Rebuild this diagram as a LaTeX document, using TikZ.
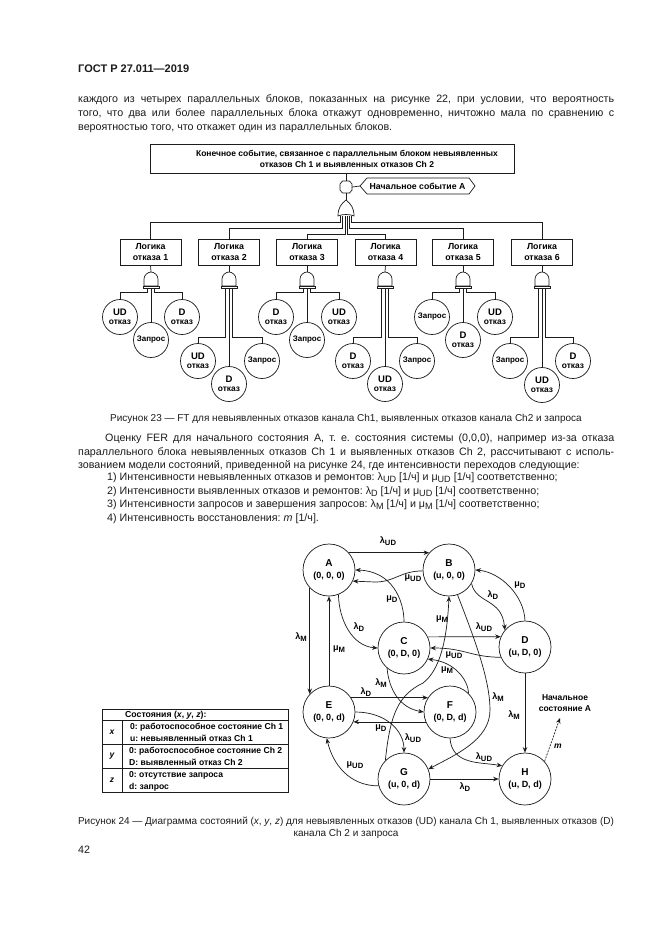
\documentclass[tikz,border=0pt]{standalone}
\usepackage{fontspec}
\setmainfont{Liberation Sans}
\usetikzlibrary{arrows.meta,calc,positioning}
\definecolor{ink}{HTML}{1C1C1C}
\frenchspacing
\newcommand{\sbs}[2]{#1\raisebox{-.4ex}{\scalebox{.85}{#2}}}
\newcommand{\lfu}[1]{{\bfseries\fontsize{9.5}{11}\selectfont #1}\\[-.5pt]{\bfseries\fontsize{8.4}{9}\selectfont отказ}}
\newcommand{\stt}[2]{{\fontsize{10}{11}\selectfont #1}\\{\fontsize{9}{10}\selectfont #2}}
\tikzset{
  wire/.style={draw=ink,line width=.7pt},
  arr/.style={wire,-{Stealth[length=5.5pt,width=4.5pt]}},
  lbox/.style={draw=ink,line width=.7pt,minimum width=61pt,minimum height=26pt,inner sep=0pt,align=center,font=\bfseries\fontsize{8.8}{11}\selectfont},
  leaf/.style={draw=ink,line width=.7pt,circle,minimum size=35pt,inner sep=0pt,align=center,font=\bfseries\fontsize{8}{9.5}\selectfont},
  state/.style={draw=ink,line width=.7pt,circle,minimum size=52pt,inner sep=0pt,align=center,font=\bfseries},
  tl/.style={inner sep=0pt,font=\bfseries\fontsize{9}{10}\selectfont},
  body/.style={anchor=base west,inner sep=0pt,text=ink,font=\fontsize{10.7}{12}\selectfont},
  capt/.style={anchor=base,inner sep=0pt,text=ink,font=\fontsize{10}{12}\selectfont},
  tabt/.style={anchor=base west,inner sep=0pt,font=\bfseries\fontsize{8.6}{9}\selectfont},
}
\newcommand{\andgate}[2]{%
  \begin{scope}[shift={(#2,272)}]
    \coordinate (#1t) at (0,0);
    \coordinate (#1b) at (0,16);
    \draw[wire,fill=white] (-7,14) -- (-7,7) .. controls (-7,3) and (-3,0) .. (0,0) .. controls (3,0) and (7,3) .. (7,7) -- (7,14) -- cycle;
    \draw[wire,fill=white] (-8,14) rectangle (8,16);
  \end{scope}}
\begin{document}
\begin{tikzpicture}[x=1pt,y=-1pt]
\useasboundingbox (0,0) rectangle (661,935);
\fill[white] (0,0) rectangle (661,935);

% page text
\node[body,font=\bfseries\fontsize{11}{12}\selectfont] (hd) at (78,72) {ГОСТ Р 27.011—2019};
\node[body] (p1) at (78,102) {\makebox[536pt][s]{каждого из четырех параллельных блоков, показанных на рисунке 22, при условии, что вероятность}};
\node[body] (p2) at (78,116) {\makebox[536pt][s]{того, что два или более параллельных блока откажут одновременно, ничтожно мала по сравнению с}};
\node[body] (p3) at (78,130) {вероятностью того, что откажет один из параллельных блоков.};

% fault tree top
\node[draw=ink,line width=.7pt,minimum width=364pt,minimum height=29pt,inner sep=0pt,align=center,font=\bfseries\fontsize{8.5}{11}\selectfont] (top) at (332,158.5) {\hspace*{30pt}Конечное событие, связанное с параллельным блоком невыявленных\\\hspace*{30pt}отказов Ch 1 и выявленных отказов Ch 2};
\node[minimum width=12pt,minimum height=12pt,inner sep=0pt] (hex) at (346,187) {};
\draw[wire] (342.5,181) -- (349.5,181) -- (352,184) -- (352,190) -- (349.5,193) -- (342.5,193) -- (340,190) -- (340,184) -- cycle;
\node[inner sep=0pt,minimum height=16pt,minimum width=115pt,font=\bfseries\fontsize{8.7}{10}\selectfont] (ev) at (417.5,186) {Начальное событие А};
\draw[wire] (360,186) -- (367,178) -- (469,178) -- (475,186) -- (469,194) -- (367,194) -- cycle;
\coordinate (evtip) at (360,186);
\draw[wire] (top.south -| hex) -- (hex.north);
\draw[wire] (hex.east) -- (evtip);
\coordinate (ort) at (346,200);
\coordinate (orb) at (346,216);
\draw[wire] (hex.south) -- (ort);
\draw[wire,fill=white] (338,216) .. controls (338,208) and (341,204) .. (346,200) .. controls (351,204) and (354,208) .. (354,216) .. controls (350,214) and (342,214) .. cycle;

% logic boxes
\node[lbox] (b1) at (150.5,252) {Логика\\отказа 1};
\node[lbox] (b2) at (229,252) {Логика\\отказа 2};
\node[lbox] (b3) at (307,252) {Логика\\отказа 3};
\node[lbox] (b4) at (385.5,252) {Логика\\отказа 4};
\node[lbox] (b5) at (463,252) {Логика\\отказа 5};
\node[lbox] (b6) at (542,252) {Логика\\отказа 6};
\draw[wire] ([xshift=-5.5pt]orb) -- ++(0,6) -| (b1.north);
\draw[wire] ([xshift=-3.3pt]orb) -- ++(0,12) -| (b2.north);
\draw[wire] ([xshift=-1.1pt]orb) -- ++(0,18) -| (b3.north);
\draw[wire] ([xshift=1.1pt]orb) -- ++(0,18) -| (b4.north);
\draw[wire] ([xshift=3.3pt]orb) -- ++(0,12) -| (b5.north);
\draw[wire] ([xshift=5.5pt]orb) -- ++(0,6) -| (b6.north);

% gates
\andgate{g1}{151}\andgate{g2}{229}\andgate{g3}{307}\andgate{g4}{385}\andgate{g5}{463}\andgate{g6}{542}
\foreach \i in {1,...,6}{\draw[wire] (b\i.south) -- (g\i t);}

% leaves
\node[leaf] (l1a) at (120,317) {\lfu{UD}};
\node[leaf] (l1b) at (151,340) {Запрос};
\node[leaf] (l1c) at (182,317) {\lfu{D}};
\node[leaf] (l2a) at (198,361) {\lfu{UD}};
\node[leaf] (l2b) at (229,384) {\lfu{D}};
\node[leaf] (l2c) at (262,361) {Запрос};
\node[leaf] (l3a) at (276,317) {\lfu{D}};
\node[leaf] (l3b) at (307,340) {Запрос};
\node[leaf] (l3c) at (339,317) {\lfu{UD}};
\node[leaf] (l4a) at (353,361) {\lfu{D}};
\node[leaf] (l4b) at (385,384) {\lfu{UD}};
\node[leaf] (l4c) at (417,361) {Запрос};
\node[leaf] (l5a) at (432,317) {Запрос};
\node[leaf] (l5b) at (463,340) {\lfu{D}};
\node[leaf] (l5c) at (495,317) {\lfu{UD}};
\node[leaf] (l6a) at (510,361) {Запрос};
\node[leaf] (l6b) at (542,385) {\lfu{UD}};
\node[leaf] (l6c) at (573,361) {\lfu{D}};
\foreach \i in {1,3,5}{
  \draw[wire] ([xshift=-3.5pt]g\i b) -- ++(0,4) -| (l\i a.north);
  \draw[wire] (g\i b) -- (l\i b.north);
  \draw[wire] ([xshift=3.5pt]g\i b) -- ++(0,4) -| (l\i c.north);
}
\foreach \i in {2,4,6}{
  \draw[wire] ([xshift=-3.5pt]g\i b) -- ++(0,49) -| (l\i a.north);
  \draw[wire] (g\i b) -- (l\i b.north);
  \draw[wire] ([xshift=3.5pt]g\i b) -- ++(0,49) -| (l\i c.north);
}

\node[capt] (c23) at (346,421) {Рисунок 23 — FT для невыявленных отказов канала Ch1, выявленных отказов канала Ch2 и запроса};

% second text block
\node[body] (q1) at (105,441) {\makebox[509pt][s]{Оценку FER для начального состояния А, т. е. состояния системы (0,0,0), например из-за отказа}};
\node[body] (q2) at (78,455) {\makebox[536pt][s]{параллельного блока невыявленных отказов Ch 1 и выявленных отказов Ch 2, рассчитывают с исполь-}};
\node[body] (q3) at (78,468) {зованием модели состояний, приведенной на рисунке 24, где интенсивности переходов следующие:};
\node[body] (q4) at (107,480) {1) Интенсивности невыявленных отказов и ремонтов: \sbs{λ}{UD} [1/ч] и \sbs{μ}{UD} [1/ч] соответственно;};
\node[body] (q5) at (107,494) {2) Интенсивности выявленных отказов и ремонтов: \sbs{λ}{D} [1/ч] и \sbs{μ}{UD} [1/ч] соответственно;};
\node[body] (q6) at (107,507) {3) Интенсивности запросов и завершения запросов: \sbs{λ}{M} [1/ч] и \sbs{μ}{M} [1/ч] соответственно;};
\node[body] (q7) at (107,521) {4) Интенсивность восстановления: \textit{m} [1/ч].};

% states
\node[state] (A) at (329,570) {\stt{A}{(0, 0, 0)}};
\node[state] (B) at (449,570) {\stt{B}{(u, 0, 0)}};
\node[state] (C) at (404,648) {\stt{C}{(0, D, 0)}};
\node[state] (D) at (525,647) {\stt{D}{(u, D, 0)}};
\node[state] (E) at (329,712) {\stt{E}{(0, 0, d)}};
\node[state] (F) at (450,712) {\stt{F}{(0, D, d)}};
\node[state] (G) at (404,779) {\stt{G}{(u, 0, d)}};
\node[state] (H) at (525,779) {\stt{H}{(u, D, d)}};

\draw[arr] (A.41) -- (B.139);
\draw[arr] (B.182) .. controls (400,571) and (395,582) .. (375,582) -- (A.-25);
\draw[arr] (C.90) .. controls (404,600) and (392,571) .. (A.0);
\draw[arr] (A.-69) .. controls (339,620) and (352,646) .. (C.180);
\draw[arr] (E.90) -- (A.-90);
\draw[arr] (A.-137) -- (E.137);
\draw[arr] (C.25) -- (D.157);
\draw[arr] (D.-157) .. controls (470,657) and (465,648) .. (C.0);
\draw[arr] (F.45) .. controls (468,680) and (455,662) .. (C.-25);
\draw[arr] (B.-31) .. controls (476,604) and (502,598) .. (D.140);
\draw[arr] (D.90) .. controls (524,595) and (500,572) .. (B.0);
\draw[arr] (B.-71) .. controls (475,640) and (490,680) .. (490,710) .. controls (490,740) and (455,755) .. (G.22);
\draw[arr] (G.135) .. controls (390,715) and (398,695) .. (423,683) .. controls (440,670) and (447,640) .. (B.-90);
\draw[arr] (C.-130) .. controls (389,690) and (400,708) .. (F.180);
\draw[arr] (E.33) -- (F.147);
\draw[arr] (F.-158) -- (E.-22);
\draw[arr] (E.0) .. controls (385,712) and (404,730) .. (G.90);
\draw[arr] (G.-165) .. controls (350,786) and (333,765) .. (E.-95);
\draw[arr] (G.0) -- (H.180);
\draw[arr] (F.-90) .. controls (452,765) and (480,762) .. (H.150);
\draw[arr] (D.-90) -- (H.90);
\coordinate (mend) at (560,718);
\draw[arr,dashed,dash pattern=on 2pt off 1.2pt] (H.42) -- (mend);

% transition labels
\node[tl] (t1) at (388,541) {\sbs{λ}{UD}};
\node[tl] (t2) at (413,578) {\sbs{μ}{UD}};
\node[tl] (t3) at (392,599) {\sbs{μ}{D}};
\node[tl] (t4) at (359,627) {\sbs{λ}{D}};
\node[tl] (t5) at (339,649) {\sbs{μ}{M}};
\node[tl] (t6) at (301,637) {\sbs{λ}{M}};
\node[tl] (t7) at (442,619) {\sbs{μ}{M}};
\node[tl] (t8) at (484,627) {\sbs{λ}{UD}};
\node[tl] (t9) at (454,655) {\sbs{μ}{UD}};
\node[tl] (t10) at (447,670) {\sbs{μ}{M}};
\node[tl] (t11) at (493,595) {\sbs{λ}{D}};
\node[tl] (t12) at (520,585) {\sbs{μ}{D}};
\node[tl] (t13) at (498,697) {\sbs{λ}{M}};
\node[tl] (t14) at (381,683) {\sbs{λ}{M}};
\node[tl] (t15) at (366,692) {\sbs{λ}{D}};
\node[tl] (t16) at (381,728) {\sbs{μ}{D}};
\node[tl] (t17) at (413,738) {\sbs{λ}{UD}};
\node[tl] (t18) at (355,765) {\sbs{μ}{UD}};
\node[tl] (t19) at (465,787) {\sbs{λ}{D}};
\node[tl] (t20) at (484,757) {\sbs{λ}{UD}};
\node[tl] (t21) at (514,715) {\sbs{λ}{M}};
\node[tl,font=\itshape\bfseries\fontsize{8.5}{10}\selectfont] (t22) at (558,746) {m};
\node[tl,align=center,font=\bfseries\fontsize{8.5}{10.5}\selectfont] (init) at (565,703) {Начальное\\состояние А};

% table
\draw[wire] (102,709) rectangle (288,792);
\draw[wire] (102,720) -- (288,720);
\draw[wire] (102,744) -- (288,744);
\draw[wire] (102,768) -- (288,768);
\draw[wire] (122,720) -- (122,792);
\node[tabt,font=\bfseries\fontsize{8.7}{9}\selectfont] (th) at (125,717.5) {Состояния (\textit{x}, \textit{y}, \textit{z}):};
\node[tabt,anchor=center,font=\bfseries\itshape\fontsize{8.5}{10}\selectfont] (tx) at (112,732) {x};
\node[tabt,anchor=center,font=\bfseries\itshape\fontsize{8.5}{10}\selectfont] (ty) at (112,756) {y};
\node[tabt,anchor=center,font=\bfseries\itshape\fontsize{8.5}{10}\selectfont] (tz) at (112,780) {z};
\node[tabt] (r1) at (130,729) {0: работоспособное состояние Ch 1};
\node[tabt] (r2) at (130,741) {u: невыявленный отказ Ch 1};
\node[tabt] (r3) at (129,753) {0: работоспособное состояние Ch 2};
\node[tabt] (r4) at (129,765) {D: выявленный отказ Ch 2};
\node[tabt] (r5) at (129,777) {0: отсутствие запроса};
\node[tabt] (r6) at (129,789) {d: запрос};

\node[capt] (c24a) at (346,824) {Рисунок 24 — Диаграмма состояний (\textit{x}, \textit{y}, \textit{z}) для невыявленных отказов (UD) канала Ch 1, выявленных отказов (D)};
\node[capt] (c24b) at (346,836) {канала Ch 2 и запроса};
\node[body] (pg) at (78,853) {42};
\end{tikzpicture}
\end{document}
